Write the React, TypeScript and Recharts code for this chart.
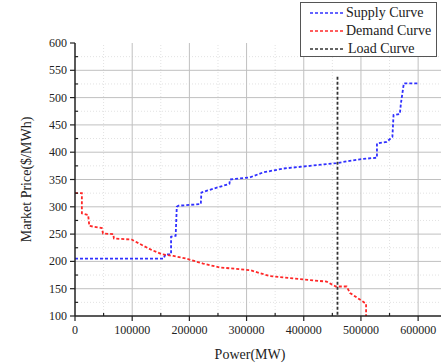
import { LineChart, Line, XAxis, YAxis, ReferenceLine, Legend, Label } from 'recharts';

// supply curve corners (MW, $/MWh)
const supplyPower = [0, 155000, 158000, 168000, 168000, 176000, 178000, 181000, 220000, 221000, 232000, 248000, 270000, 271000, 306000, 329000, 364000, 411000, 457000, 498000, 528000, 528000, 545000, 555000, 557000, 568000, 570000, 575000, 600000];
const supplyPrice = [205, 205, 213, 213, 245, 247, 300, 302, 305, 326, 330, 335, 342, 350, 354, 363, 370, 375, 380, 387, 390, 416, 419, 428, 468, 470, 490, 526, 526];

// demand curve corners
const demandPower = [0, 12000, 12000, 23000, 25000, 47000, 49000, 67000, 68000, 99000, 117000, 134000, 152000, 172000, 195000, 224000, 253000, 306000, 341000, 399000, 440000, 456000, 475000, 481000, 504000, 509000, 509000];
const demandPrice = [325, 325, 288, 285, 265, 261, 251, 250, 242, 240, 230, 221, 213, 210, 205, 196, 189, 184, 173, 167, 163, 154, 154, 142, 126, 122, 100];

const loadPower = [459000, 459000];
const loadPrice = [538, 100];

const xTicks = [0, 50000, 100000, 150000, 200000, 250000, 300000, 350000, 400000, 450000, 500000, 550000, 600000];
const yTicks = [100, 125, 150, 175, 200, 225, 250, 275, 300, 325, 350, 375, 400, 425, 450, 475, 500, 525, 550, 575, 600];
const xMajor = [100000, 200000, 300000, 400000, 500000, 600000];
const xMinor = [50000, 150000, 250000, 350000, 450000, 550000];
const yMajor = [150, 200, 250, 300, 350, 400, 450, 500, 550];
const yMinor = [125, 175, 225, 275, 325, 375, 425, 475, 525, 575];

const seriesNames = ['Supply Curve', 'Demand Curve', 'Load Curve'];
const seriesColors = ['#3030ff', '#ff2828', '#333333'];

const zip = (xs: number[], ys: number[]) => xs.map((x, i) => ({ power: x, price: ys[i] }));
const supply = zip(supplyPower, supplyPrice);
const demand = zip(demandPower, demandPrice);
const load = zip(loadPower, loadPrice);

const font = '"Liberation Serif", "Times New Roman", serif';
const ink = '#222';

const YTick = (props: any) => {
  const { x, y, payload } = props;
  const major = payload.value % 50 === 0;
  const ax = x + 8;
  return (
    <g>
      <line x1={major ? ax - 5 : ax} x2={major ? ax : ax + 3} y1={y} y2={y} stroke={ink} strokeWidth={1.2} />
      {major && (
        <text x={x} y={y} dy={4} textAnchor="end" fontSize={12} fontFamily={font} fill={ink}>
          {payload.value}
        </text>
      )}
    </g>
  );
};

const XTick = (props: any) => {
  const { x, y, payload } = props;
  const major = payload.value % 100000 === 0;
  const ay = y - 8;
  return (
    <g>
      <line x1={x} x2={x} y1={major ? ay : ay - 3} y2={major ? ay + 5 : ay} stroke={ink} strokeWidth={1.2} />
      {major && (
        <text x={x} y={y} dy={10} textAnchor="middle" fontSize={12} fontFamily={font} fill={ink}>
          {payload.value}
        </text>
      )}
    </g>
  );
};

const LegendBox = () => (
  <div style={{ width: 137, height: 55, boxSizing: 'border-box', border: '1px solid #555', background: '#fff', paddingTop: 1 }}>
    {seriesNames.map((n, i) => (
      <div key={n} style={{ display: 'flex', alignItems: 'center', height: 18 }}>
        <svg width={44} height={18}>
          <line x1={9} x2={42} y1={9} y2={9} stroke={seriesColors[i]} strokeWidth={1.6} strokeDasharray="3 2" />
        </svg>
        <span style={{ fontFamily: font, fontSize: 14, color: ink, marginLeft: i === 2 ? 3 : 1 }}>{n}</span>
      </div>
    ))}
  </div>
);

export default function App() {
  return (
    <div style={{ position: 'relative', width: 443, height: 364, background: '#fff' }}>
      <style>{'body{margin:0}'}</style>
      <LineChart width={443} height={364} margin={{ top: 43, right: 2, left: 0, bottom: 0 }}>
        {xMinor.map(v => <ReferenceLine key={'xm' + v} x={v} stroke="#e2e2e2" strokeDasharray="1 2" />)}
        {yMinor.map(v => <ReferenceLine key={'ym' + v} y={v} stroke="#e2e2e2" strokeDasharray="1 2" />)}
        {xMajor.map(v => <ReferenceLine key={'xM' + v} x={v} stroke="#c0c0c0" />)}
        {yMajor.map(v => <ReferenceLine key={'yM' + v} y={v} stroke="#c0c0c0" />)}
        <XAxis dataKey="power" type="number" domain={[0, 640000]} ticks={xTicks} interval={0}
          tick={<XTick />} tickLine={false} tickSize={5} tickMargin={3} height={48}
          axisLine={{ stroke: ink, strokeWidth: 1.5 }} allowDataOverflow>
          <Label value="Power(MW)" position="insideBottom" offset={5} dx={-8}
            style={{ fontFamily: font, fontSize: 14, fill: ink }} />
        </XAxis>
        <YAxis dataKey="price" type="number" domain={[100, 600]} ticks={yTicks} interval={0}
          tick={<YTick />} tickLine={false} tickSize={5} tickMargin={3} width={75}
          axisLine={{ stroke: ink, strokeWidth: 1.5 }} allowDataOverflow>
          <Label value="Market Price($/MWh)" angle={-90} position="insideLeft" offset={26}
            style={{ fontFamily: font, fontSize: 14, fill: ink, textAnchor: 'middle' }} />
        </YAxis>
        <Legend layout="vertical" align="center" verticalAlign="middle" content={<LegendBox />}
          wrapperStyle={{ position: 'absolute', top: 2, left: 300, width: 137 }} />
        <Line data={supply} dataKey="price" name={seriesNames[0]} stroke={seriesColors[0]} strokeWidth={1.8}
          strokeDasharray="3 2" dot={false} isAnimationActive={false} />
        <Line data={demand} dataKey="price" name={seriesNames[1]} stroke={seriesColors[1]} strokeWidth={1.8}
          strokeDasharray="3 2" dot={false} isAnimationActive={false} />
        <Line data={load} dataKey="price" name={seriesNames[2]} stroke={seriesColors[2]} strokeWidth={1.8}
          strokeDasharray="3 2" dot={false} isAnimationActive={false} />
      </LineChart>
    </div>
  );
}
